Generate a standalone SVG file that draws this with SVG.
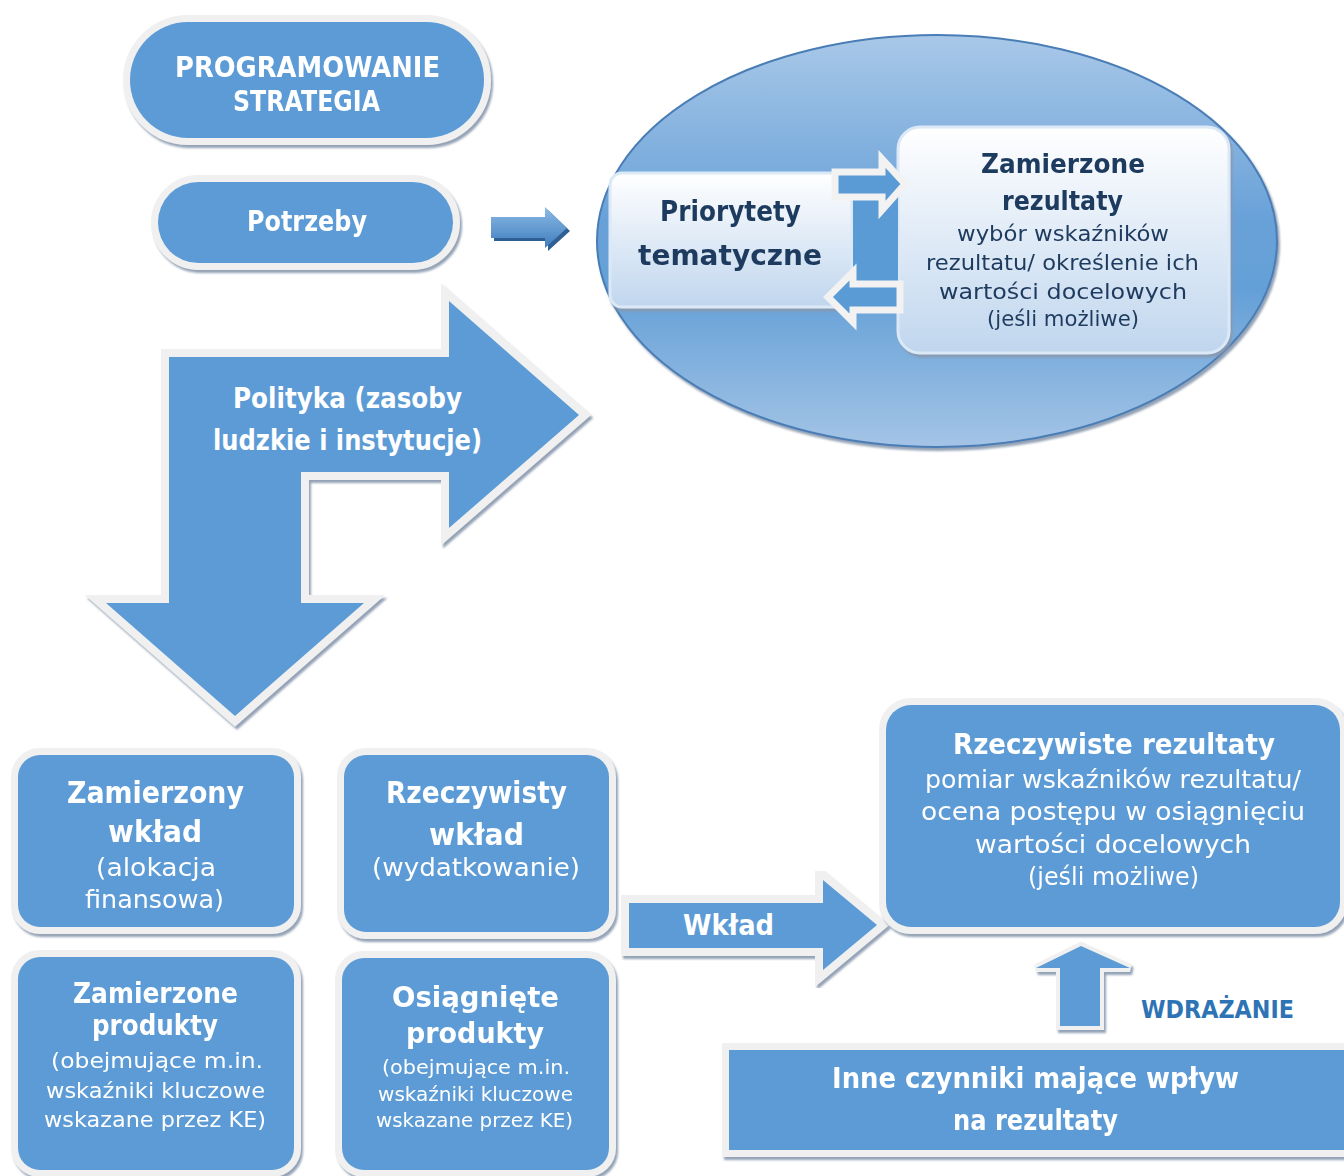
<svg xmlns="http://www.w3.org/2000/svg" width="1344" height="1176" viewBox="0 0 1344 1176">
<style>
text{font-family:"DejaVu Sans","Liberation Sans",sans-serif;}
.b{font-weight:bold;}
.w{fill:#ffffff;}
.d{fill:#1f3b5e;}
.blue{fill:#5b9bd5;stroke:#f0f0f0;stroke-width:16;paint-order:stroke;stroke-linejoin:miter;}
.blueb{fill:#5b9bd5;stroke:#f0f0f0;stroke-width:14;paint-order:stroke;}
.lite{fill:url(#lg);stroke:#dbe8f5;stroke-width:3;}
.hol{fill:#5b9bd5;stroke:#f2f2f2;stroke-width:7;stroke-linejoin:miter;}
</style>
<defs>
<filter id="sh" x="-10%" y="-10%" width="125%" height="130%">
<feDropShadow dx="2" dy="3" stdDeviation="1" flood-color="#8798ae" flood-opacity="0.9"/>
</filter>
<linearGradient id="eg" x1="0" y1="0" x2="0" y2="1">
<stop offset="0" stop-color="#a9c8e8"/>
<stop offset="0.45" stop-color="#68a1d8"/>
<stop offset="0.62" stop-color="#64a0d7"/>
<stop offset="1" stop-color="#a4c4e6"/>
</linearGradient>
<linearGradient id="lg" x1="0" y1="0" x2="0" y2="1">
<stop offset="0" stop-color="#ffffff"/>
<stop offset="1" stop-color="#c0d6ee"/>
</linearGradient>
<linearGradient id="ag" x1="0" y1="0" x2="0" y2="1">
<stop offset="0" stop-color="#8cbbe6"/>
<stop offset="1" stop-color="#3f7dbd"/>
</linearGradient>
</defs>

<g id="node-programowanie" filter="url(#sh)">
<rect class="blueb" x="130" y="22" width="354" height="116" rx="58"/>
<text class="b w" font-size="29" x="175" y="77" textLength="265" lengthAdjust="spacingAndGlyphs">PROGRAMOWANIE</text>
<text class="b w" font-size="29" x="233" y="111" textLength="147" lengthAdjust="spacingAndGlyphs">STRATEGIA</text>
</g>

<g id="node-potrzeby" filter="url(#sh)">
<rect class="blueb" x="158" y="182" width="295" height="81" rx="40.5"/>
<text class="b w" font-size="28" x="247" y="231" textLength="120" lengthAdjust="spacingAndGlyphs">Potrzeby</text>
</g>

<g id="node-ellipse">
<ellipse cx="937" cy="241" rx="340" ry="206" fill="url(#eg)" stroke="#4a7db5" stroke-width="2" filter="url(#sh)"/>
</g>

<g id="node-priorytety" filter="url(#sh)">
<rect class="lite" x="610" y="173" width="242" height="134" rx="12"/>
<text class="b d" font-size="29" x="660" y="221" textLength="141" lengthAdjust="spacingAndGlyphs">Priorytety</text>
<text class="b d" font-size="29" x="638" y="265" textLength="184" lengthAdjust="spacingAndGlyphs">tematyczne</text>
</g>

<g id="node-zamierzone-rezultaty" filter="url(#sh)">
<rect class="lite" x="898" y="127" width="331" height="226" rx="22"/>
<text class="b d" font-size="26" x="981" y="173" textLength="164" lengthAdjust="spacingAndGlyphs">Zamierzone</text>
<text class="b d" font-size="26" x="1002" y="210" textLength="121" lengthAdjust="spacingAndGlyphs">rezultaty</text>
<text class="d" font-size="22" x="957" y="241" textLength="212" lengthAdjust="spacingAndGlyphs">wybór wskaźników</text>
<text class="d" font-size="22" x="926" y="270" textLength="273" lengthAdjust="spacingAndGlyphs">rezultatu/ określenie ich</text>
<text class="d" font-size="22" x="939" y="299" textLength="248" lengthAdjust="spacingAndGlyphs">wartości docelowych</text>
<text class="d" font-size="22" x="987" y="326" textLength="152" lengthAdjust="spacingAndGlyphs">(jeśli możliwe)</text>
</g>

<g id="connectors">
<polygon points="494,220 548,220 548,210 570,231 548,251 548,241 494,241" fill="#2f5f93"/>
<polygon points="491,217 545,217 545,207 567,228 545,248 545,238 491,238" fill="url(#ag)"/>
<rect x="853" y="196" width="45" height="88" fill="#5b9bd5"/>
<polygon class="hol" points="835,172 882,172 882,159 905,184 882,210 882,197 835,197"/>
<polygon class="hol" points="900,284 853,284 853,272 828,297 853,322 853,310 900,310"/>
<g filter="url(#sh)">
<polygon class="blue" points="629,903 823,903 823,880 877,925 823,970 823,948 629,948"/>
</g>
<text class="b w" font-size="28" x="683" y="935" textLength="91" lengthAdjust="spacingAndGlyphs">Wkład</text>
<g filter="url(#sh)">
<polygon fill="#5b9bd5" stroke="#f0f0f0" stroke-width="8" paint-order="stroke" points="1060,1026 1060,968 1036,968 1081,946 1130,968 1100,968 1100,1026"/>
</g>
</g>

<g id="node-polityka">
<g filter="url(#sh)">
<polygon class="blue" points="169,357 449,357 449,301 579,415 449,528 449,472 301,472 301,603 364,603 235,716 106,603 169,603"/>
</g>
<text class="b w" font-size="29" x="233" y="408" textLength="229" lengthAdjust="spacingAndGlyphs">Polityka (zasoby</text>
<text class="b w" font-size="29" x="213" y="450" textLength="269" lengthAdjust="spacingAndGlyphs">ludzkie i instytucje)</text>
</g>

<g id="node-zamierzony-wklad" filter="url(#sh)">
<rect class="blueb" x="18" y="755" width="276" height="172" rx="22"/>
<text class="b w" font-size="30" x="67" y="803" textLength="177" lengthAdjust="spacingAndGlyphs">Zamierzony</text>
<text class="b w" font-size="30" x="108" y="842" textLength="94" lengthAdjust="spacingAndGlyphs">wkład</text>
<text class="w" font-size="24" x="96" y="876" textLength="120" lengthAdjust="spacingAndGlyphs">(alokacja</text>
<text class="w" font-size="24" x="85" y="908" textLength="139" lengthAdjust="spacingAndGlyphs">finansowa)</text>
</g>

<g id="node-rzeczywisty-wklad" filter="url(#sh)">
<rect class="blueb" x="344" y="755" width="265" height="177" rx="22"/>
<text class="b w" font-size="30" x="386" y="803" textLength="181" lengthAdjust="spacingAndGlyphs">Rzeczywisty</text>
<text class="b w" font-size="30" x="429" y="845" textLength="95" lengthAdjust="spacingAndGlyphs">wkład</text>
<text class="w" font-size="24" x="372" y="876" textLength="208" lengthAdjust="spacingAndGlyphs">(wydatkowanie)</text>
</g>

<g id="node-zamierzone-produkty" filter="url(#sh)">
<rect class="blueb" x="18" y="957" width="276" height="213" rx="22"/>
<text class="b w" font-size="28" x="73" y="1003" textLength="165" lengthAdjust="spacingAndGlyphs">Zamierzone</text>
<text class="b w" font-size="28" x="92" y="1035" textLength="126" lengthAdjust="spacingAndGlyphs">produkty</text>
<text class="w" font-size="22" x="51" y="1068" textLength="212" lengthAdjust="spacingAndGlyphs">(obejmujące m.in.</text>
<text class="w" font-size="22" x="46" y="1098" textLength="219" lengthAdjust="spacingAndGlyphs">wskaźniki kluczowe</text>
<text class="w" font-size="22" x="44" y="1127" textLength="222" lengthAdjust="spacingAndGlyphs">wskazane przez KE)</text>
</g>

<g id="node-osiagniete-produkty" filter="url(#sh)">
<rect class="blueb" x="342" y="958" width="267" height="212" rx="22"/>
<text class="b w" font-size="29" x="392" y="1007" textLength="167" lengthAdjust="spacingAndGlyphs">Osiągnięte</text>
<text class="b w" font-size="29" x="406" y="1043" textLength="138" lengthAdjust="spacingAndGlyphs">produkty</text>
<text class="w" font-size="20" x="382" y="1074" textLength="188" lengthAdjust="spacingAndGlyphs">(obejmujące m.in.</text>
<text class="w" font-size="20" x="378" y="1101" textLength="195" lengthAdjust="spacingAndGlyphs">wskaźniki kluczowe</text>
<text class="w" font-size="20" x="376" y="1127" textLength="197" lengthAdjust="spacingAndGlyphs">wskazane przez KE)</text>
</g>

<g id="node-rzeczywiste-rezultaty" filter="url(#sh)">
<rect class="blueb" x="886" y="705" width="454" height="222" rx="25"/>
<text class="b w" font-size="29" x="953" y="754" textLength="322" lengthAdjust="spacingAndGlyphs">Rzeczywiste rezultaty</text>
<text class="w" font-size="25" x="925" y="788" textLength="376" lengthAdjust="spacingAndGlyphs">pomiar wskaźników rezultatu/</text>
<text class="w" font-size="25" x="921" y="820" textLength="384" lengthAdjust="spacingAndGlyphs">ocena postępu w osiągnięciu</text>
<text class="w" font-size="25" x="975" y="853" textLength="276" lengthAdjust="spacingAndGlyphs">wartości docelowych</text>
<text class="w" font-size="25" x="1028" y="885" textLength="171" lengthAdjust="spacingAndGlyphs">(jeśli możliwe)</text>
</g>

<g id="node-wdrazanie">
<text class="b" fill="#2e74b5" font-size="24" x="1141" y="1018" textLength="153" lengthAdjust="spacingAndGlyphs">WDRAŻANIE</text>
</g>

<g id="node-inne-czynniki" filter="url(#sh)">
<rect class="blueb" x="729" y="1050" width="630" height="100"/>
<text class="b w" font-size="28" x="832" y="1088" textLength="407" lengthAdjust="spacingAndGlyphs">Inne czynniki mające wpływ</text>
<text class="b w" font-size="28" x="953" y="1130" textLength="165" lengthAdjust="spacingAndGlyphs">na rezultaty</text>
</g>
</svg>
